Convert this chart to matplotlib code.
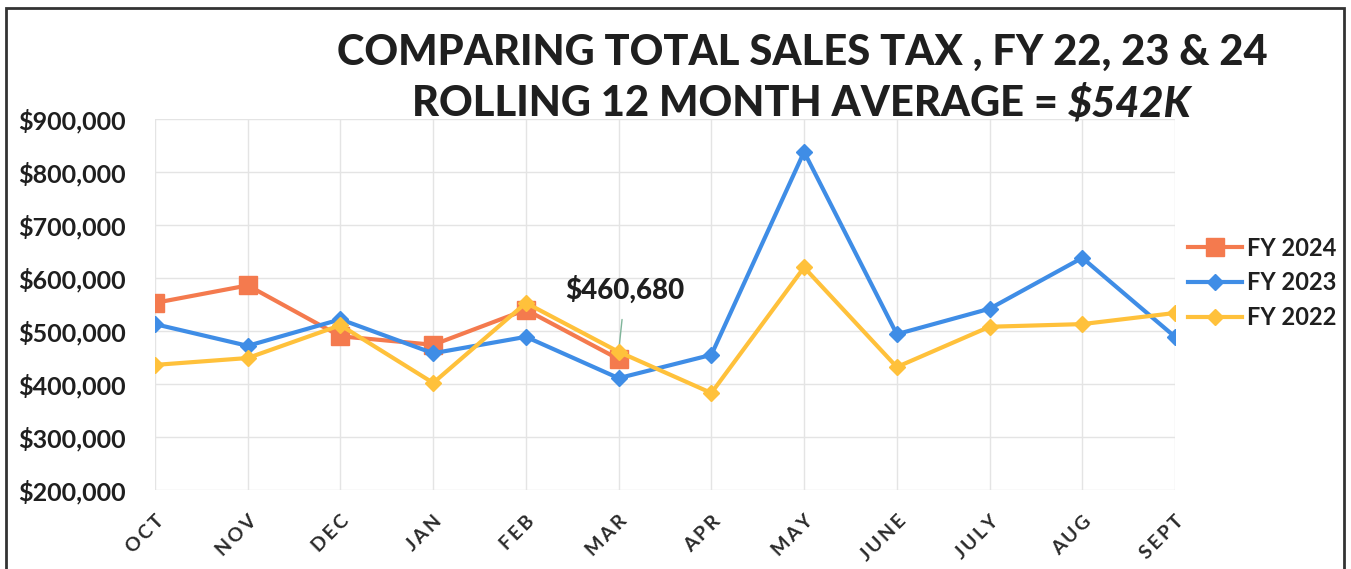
import numpy as np
import matplotlib.pyplot as plt
from matplotlib.patches import Rectangle

plt.rcParams['font.family'] = ['Lato', 'DejaVu Sans']

months = ['OCT', 'NOV', 'DEC', 'JAN', 'FEB', 'MAR', 'APR', 'MAY', 'JUNE', 'JULY', 'AUG', 'SEPT']
fy2024 = [553000, 586000, 490000, 474000, 540000, 447000]
fy2023 = [513000, 472000, 522000, 458000, 489000, 411000, 455000, 838000, 494000, 542000, 638000, 489000]
fy2022 = [436000, 449000, 511000, 402000, 553000, 460680, 383000, 620000, 432000, 508000, 513000, 534000]
yticks = [200000, 300000, 400000, 500000, 600000, 700000, 800000, 900000]

c24 = '#F47A4E'
c23 = '#3F8DE6'
c22 = '#FFC13B'
txt = '#1f1f1f'

fig = plt.figure(figsize=(13.51, 5.69), dpi=100)
ax = fig.add_axes([155/1351, 1-490/569, 1020/1351, 371/569])

x = np.arange(len(months))
ax.plot(x[:len(fy2024)], fy2024, color=c24, lw=3, marker='s', ms=13, label='FY 2024', zorder=3)
ax.plot(x, fy2023, color=c23, lw=3, marker='D', ms=8, label='FY 2023', zorder=4)
ax.plot(x, fy2022, color=c22, lw=3, marker='D', ms=8, label='FY 2022', zorder=5)

ax.set_xlim(0, len(months)-1)
ax.set_ylim(200000, 900000)
ax.set_yticks(yticks)
ax.set_yticklabels(['${:,.0f}'.format(v) for v in yticks], fontsize=18, fontweight='bold', color=txt)
ax.set_xticks(x)
ax.set_xticklabels(['\u2009'.join(m) for m in months], rotation=45, ha='right', rotation_mode='anchor',
                   fontsize=14, fontweight='bold', color='#2a2a2a')
ax.tick_params(length=0)
ax.tick_params(axis='x', pad=16)
ax.tick_params(axis='y', pad=21)
ax.grid(True, color='#e4e4e4', lw=1)
for s in ax.spines.values():
    s.set_visible(False)

ax.annotate('$460,680', xy=(5, fy2022[5]), xytext=(5.07, 577000), fontsize=20, fontweight='black',
            color=txt, ha='center', va='center',
            arrowprops=dict(arrowstyle='-', color='#7fb59a', lw=1, shrinkA=9, shrinkB=5))

leg = ax.legend(loc='center left', bbox_to_anchor=((1188-155)/1020, 0.558), frameon=False, fontsize=17,
                handlelength=2.3, handletextpad=0.2, labelspacing=0.5, borderaxespad=0, borderpad=0)
for t in leg.get_texts():
    t.set_fontweight('bold')
    t.set_color(txt)

fig.text(802/1351, 1-53/569, 'COMPARING TOTAL SALES TAX , FY 22, 23 & 24', fontsize=30,
         fontweight='black', ha='center', va='center', color=txt)
t1 = fig.text(802/1351, 1-104/569, 'ROLLING 12 MONTH AVERAGE = ', fontsize=30,
              fontweight='black', ha='center', va='center', color=txt)
t2 = fig.text(0, 1-104/569, '$542K', fontsize=30, fontweight='black', style='italic',
              ha='left', va='center', color=txt)
r = fig.canvas.get_renderer()
w1 = t1.get_window_extent(r).width
w2 = t2.get_window_extent(r).width
left = 802 - (w1 + w2) / 2
t1.set_ha('left')
t1.set_x(left/1351)
t2.set_x((left + w1)/1351)

fig.patches.append(Rectangle((6/1351, -0.1), 1338/1351, 1.1 - 8/569, transform=fig.transFigure,
                             fill=False, ec='#333333', lw=2))

plt.savefig('out.png')
